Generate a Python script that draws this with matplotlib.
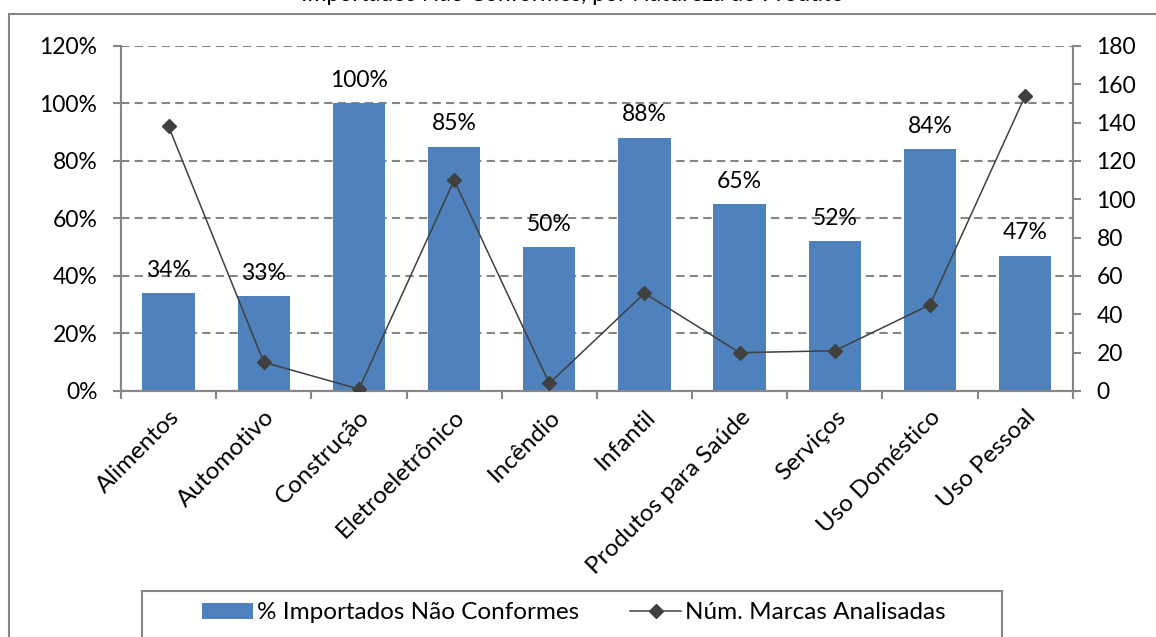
import matplotlib
matplotlib.use('Agg')
import matplotlib.pyplot as plt
from matplotlib.patches import Rectangle, Patch
from matplotlib.lines import Line2D
import numpy as np

plt.rcParams['font.family'] = ['Lato', 'DejaVu Sans']

# data
categorias = ['Alimentos', 'Automotivo', 'Construção', 'Eletroeletrônico', 'Incêndio',
              'Infantil', 'Produtos para Saúde', 'Serviços', 'Uso Doméstico', 'Uso Pessoal']
pct_nao_conformes = [0.34, 0.33, 1.00, 0.85, 0.50, 0.88, 0.65, 0.52, 0.84, 0.47]
num_marcas = [138, 15, 1, 110, 4, 51, 20, 21, 45, 154]
rotulos_pct = ['34%', '33%', '100%', '85%', '50%', '88%', '65%', '52%', '84%', '47%']

cor_barra = '#4F81BD'
cor_linha = '#404040'
cor_eixo = '#868686'
fs = 16.5

fig = plt.figure(figsize=(11.56, 6.37), dpi=100)
ax1 = fig.add_axes([0.1047, 0.3862, 0.8233, 0.5416])
ax2 = ax1.twinx()

x = np.arange(len(categorias))

#bars on the left axis
ax1.bar(x, pct_nao_conformes, width=0.55, color=cor_barra, zorder=2)
for xi, v, lab in zip(x, pct_nao_conformes, rotulos_pct):
    ax1.annotate(lab, (xi, v), xytext=(0, 9), textcoords='offset points',
                 ha='center', va='bottom', fontsize=fs, color='black')

ax1.set_xlim(-0.5, len(categorias) - 0.5)
ax1.set_ylim(0, 1.2)
ax1.set_yticks(np.arange(0, 1.21, 0.2))
ax1.set_yticklabels([f'{int(round(t*100))}%' for t in np.arange(0, 1.21, 0.2)])
ax1.yaxis.grid(True, linestyle=(0, (4, 2.5)), color=cor_eixo, linewidth=1.5, zorder=0)
ax1.set_axisbelow(True)

# category labels centred, tick marks at the category edges
ax1.set_xticks(x)
ax1.set_xticklabels(categorias, rotation=45, ha='right', va='top', rotation_mode='anchor',
                    fontsize=17.5)
ax1.set_xticks(np.arange(-0.5, len(categorias)), minor=True)
ax1.tick_params(axis='x', which='major', length=0, pad=11)
ax1.tick_params(axis='x', which='minor', length=6, width=1.5, color=cor_eixo, direction='out')
ax1.tick_params(axis='y', length=6, width=1.5, color=cor_eixo, labelsize=fs, pad=11)

#line on the right axis
ax2.plot(x, num_marcas, color=cor_linha, linewidth=1.1, marker='D', markersize=7.5,
         markerfacecolor=cor_linha, markeredgecolor=cor_linha, zorder=3)
ax2.set_ylim(0, 180)
ax2.set_yticks(np.arange(0, 181, 20))
ax2.tick_params(axis='y', length=6, width=1.5, color=cor_eixo, labelsize=fs, pad=11)

for a in (ax1, ax2):
    a.spines['top'].set_visible(False)
    for s in ('left', 'right', 'bottom'):
        a.spines[s].set_color(cor_eixo)
        a.spines[s].set_linewidth(1.5)

# outer chart frame (cut by the image edges)
fig.patches.append(Rectangle((9/1156, -0.05), 1.1, 1.05 - 14/637, transform=fig.transFigure,
                             fill=False, edgecolor=cor_eixo, linewidth=1.5))
# legend frame
fig.patches.append(Rectangle((142/1156, -0.05), (1002-142)/1156, 0.05 + 1 - 591/637,
                             transform=fig.transFigure, fill=False, edgecolor=cor_eixo,
                             linewidth=1.5))

handles = [Patch(facecolor=cor_barra, edgecolor='none'),
           Line2D([], [], color=cor_linha, linewidth=1.1, marker='D', markersize=7.5)]
fig.legend(handles, ['% Importados Não Conformes', 'Núm. Marcas Analisadas'], ncol=2,
           loc='center', bbox_to_anchor=(0.4965, 0.0377), frameon=False, fontsize=17.5,
           handlelength=2.1, handleheight=0.6, handletextpad=0.15, columnspacing=2.1)

# title sits above the frame and is mostly cut off in the reference
fig.text(0.495, 0.9985, 'Importados Não Conformes, por Natureza do Produto', ha='center',
         va='baseline', fontsize=fs)

fig.savefig('out.png', dpi=100)
